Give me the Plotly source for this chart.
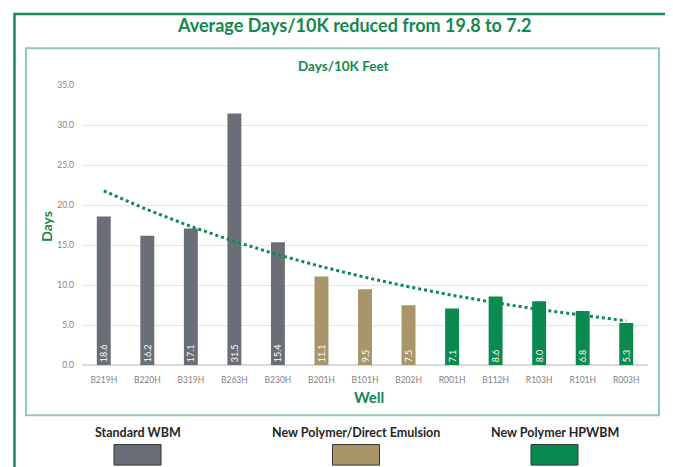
import numpy as np
import plotly.graph_objects as go

wells = ["B219H", "B220H", "B319H", "B263H", "B230H", "B201H", "B101H", "B202H",
         "R001H", "B112H", "R103H", "R101H", "R003H"]
days = [18.6, 16.2, 17.1, 31.5, 15.4, 11.1, 9.5, 7.5, 7.1, 8.6, 8.0, 6.8, 5.3]
groups = ["Standard WBM"] * 5 + ["New Polymer/Direct Emulsion"] * 3 + ["New Polymer HPWBM"] * 5
group_names = ["Standard WBM", "New Polymer/Direct Emulsion", "New Polymer HPWBM"]
group_colors = {"Standard WBM": "#6a6f77",
                "New Polymer/Direct Emulsion": "#a8956a",
                "New Polymer HPWBM": "#0b8a50"}
title_text = "Average Days/10K reduced from 19.8 to 7.2"

W, H = 673, 467
OFF = 8  # page body margin in the viewer
GREEN = "#15874d"
FONT = "Lato"

def px(x):
    return (x - OFF) / W

def py(y):
    return (H - (y - OFF)) / H

# exponential trendline fitted to the data (Excel-style)
idx = np.arange(1, len(days) + 1)
b, a = np.polyfit(idx, np.log(days), 1)
trend = np.exp(a + b * idx)

fig = go.Figure()
fig.add_trace(go.Bar(
    x=wells, y=days,
    marker=dict(color=[group_colors[g] for g in groups], line=dict(width=0)),
    width=0.32,
    text=[f"{v:.1f}" for v in days],
    textposition="inside", insidetextanchor="start", textangle=-90,
    insidetextfont=dict(color="white", size=9, family=FONT),
    showlegend=False, hoverinfo="x+y",
))
fig.add_trace(go.Scatter(
    x=wells, y=trend, mode="lines",
    line=dict(color="#0e8a50", width=3, dash="dot"),
    showlegend=False, hoverinfo="skip",
))

fig.update_layout(
    width=W, height=H,
    margin=dict(l=0, r=0, t=0, b=0),
    paper_bgcolor="white", plot_bgcolor="white",
    font=dict(family=FONT, color="#7f7f7f"),
    uniformtext=dict(minsize=9, mode="show"),
    xaxis=dict(domain=[px(82), px(648)], type="category",
               tickfont=dict(size=8.5, color="#7f7f7f"), showgrid=False,
               showline=False, ticks="", range=[-0.5, 12.5], fixedrange=True,
               ticklabelstandoff=8),
    yaxis=dict(domain=[py(368), py(82)], range=[0, 35], dtick=5, tickformat=".1f",
               tickfont=dict(size=8.5, color="#7f7f7f"), showgrid=True,
               gridcolor="#e4e4e4", gridwidth=1, zeroline=True, zerolinecolor="#d9d9d9",
               showline=False, ticks="", fixedrange=True, ticklabelstandoff=7),
)

shapes = [
    # outer green frame
    dict(type="rect", xref="paper", yref="paper", x0=px(14.5), x1=px(670.5), y0=py(480), y1=py(9),
         line=dict(color="#1a8a56", width=2.5), fillcolor="rgba(0,0,0,0)", layer="below"),
    # inner chart box
    dict(type="rect", xref="paper", yref="paper", x0=px(26), x1=px(659), y0=py(419), y1=py(44),
         line=dict(color="#8fcbaf", width=2), fillcolor="rgba(0,0,0,0)", layer="below"),
]
annotations = [
    dict(text=f"<b>{title_text}</b>", x=px(354), y=py(20), xref="paper", yref="paper",
         showarrow=False, font=dict(size=18, color=GREEN, family=FONT), xanchor="center", yanchor="middle"),
    dict(text="<b>Days/10K Feet</b>", x=px(343), y=py(62), xref="paper", yref="paper",
         showarrow=False, font=dict(size=13.5, color=GREEN, family=FONT), xanchor="center", yanchor="middle"),
    dict(text="<b>Days</b>", x=px(46.5), y=py(226), xref="paper", yref="paper", textangle=-90,
         showarrow=False, font=dict(size=14, color=GREEN, family=FONT), xanchor="center", yanchor="middle"),
    dict(text="<b>Well</b>", x=px(368.5), y=py(400), xref="paper", yref="paper",
         showarrow=False, font=dict(size=15, color=GREEN, family=FONT), xanchor="center", yanchor="middle"),
]
legend_x = [137.5, 356, 554.5]
for name, cx in zip(group_names, legend_x):
    annotations.append(dict(text=f"<b>{name}</b>", x=px(cx), y=py(437), xref="paper", yref="paper",
                            showarrow=False, font=dict(size=12.5, color="#262626", family=FONT),
                            xanchor="center", yanchor="middle"))
    shapes.append(dict(type="rect", xref="paper", yref="paper", x0=px(cx - 23.5), x1=px(cx + 23.5),
                       y0=py(470), y1=py(449), fillcolor=group_colors[name],
                       line=dict(color="#333333", width=1)))
fig.update_layout(shapes=shapes, annotations=annotations)

fig.write_html("out.html")
